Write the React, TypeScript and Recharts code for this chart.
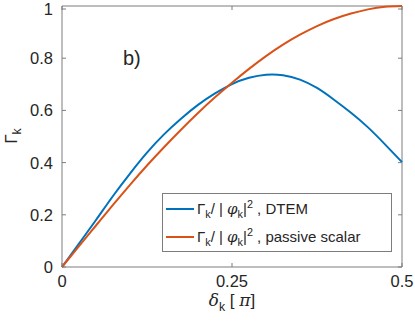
import { LineChart, Line, XAxis, YAxis, ReferenceArea } from 'recharts'

// delta_k in units of pi
const DELTA = [
  0, 0.025, 0.05, 0.075, 0.1, 0.125, 0.15, 0.175, 0.2, 0.225, 0.25,
  0.275, 0.3, 0.325, 0.35, 0.375, 0.4, 0.425, 0.45, 0.475, 0.5,
]
const GAMMA_DTEM = [
  0, 0.09, 0.18, 0.272, 0.358, 0.438, 0.508, 0.568, 0.621, 0.665, 0.701,
  0.725, 0.737, 0.735, 0.718, 0.686, 0.641, 0.591, 0.535, 0.47, 0.402,
]
const GAMMA_PASSIVE = [
  0, 0.08, 0.159, 0.238, 0.315, 0.389, 0.459, 0.526, 0.59, 0.65, 0.706,
  0.759, 0.808, 0.852, 0.89, 0.923, 0.95, 0.971, 0.987, 0.997, 1,
]
const X_TICKS = [0, 0.25, 0.5]
const Y_TICKS = [0, 0.2, 0.4, 0.6, 0.8, 1]

const W = 415
const H = 322
const PLOT = { left: 62, top: 6, right: 402, bottom: 267 }
const AXIS = '#7d7d7d'
const TEXT = '#262626'
const FONT = '"Liberation Sans", Arial, Helvetica, sans-serif'
const SERIF = '"DejaVu Serif", serif'
const BLUE = '#0072BD'
const ORANGE = '#D95319'

const data = DELTA.map((d, i) => ({
  delta: d,
  dtem: GAMMA_DTEM[i],
  passive: GAMMA_PASSIVE[i],
}))

function XTick({ x, payload }: any) {
  return (
    <g>
      <line x1={x} x2={x} y1={PLOT.bottom} y2={PLOT.bottom - 4} stroke={AXIS} />
      <line x1={x} x2={x} y1={PLOT.top} y2={PLOT.top + 4} stroke={AXIS} />
      <text x={x} y={PLOT.bottom + 20} textAnchor="middle" fill={TEXT} fontSize={16.5} fontFamily={FONT}>
        {payload.value}
      </text>
    </g>
  )
}

function YTick({ y, payload }: any) {
  return (
    <g>
      <line x1={PLOT.left} x2={PLOT.left + 4} y1={y} y2={y} stroke={AXIS} />
      <line x1={PLOT.right} x2={PLOT.right - 4} y1={y} y2={y} stroke={AXIS} />
      <text x={53} y={y + 6} textAnchor="end" fill={TEXT} fontSize={16.5} fontFamily={FONT}>
        {payload.value}
      </text>
    </g>
  )
}

const subStyle = { fontSize: '0.72em', verticalAlign: '-0.35em' }
const supStyle = { fontSize: '0.72em', verticalAlign: '0.55em' }

function LegendText({ label }: { label: string }) {
  return (
    <span style={{ whiteSpace: 'nowrap' }}>
      Γ<span style={subStyle}>k</span>/ | <i style={{ fontFamily: SERIF }}>φ</i>
      <span style={subStyle}>k</span>|<span style={supStyle}>2</span> , {label}
    </span>
  )
}

export default function App() {
  return (
    <div style={{ position: 'absolute', left: 0, top: 0, width: W, height: H, background: '#fff', fontFamily: FONT, color: TEXT }}>
      <LineChart
        width={W}
        height={H}
        data={data}
        margin={{ top: PLOT.top, right: W - PLOT.right, bottom: 0, left: 0 }}
      >
        <XAxis
          dataKey="delta"
          type="number"
          domain={[0, 0.5]}
          ticks={X_TICKS}
          tick={XTick}
          tickLine={false}
          axisLine={false}
          height={H - PLOT.bottom}
        />
        <YAxis
          type="number"
          domain={[0, 1]}
          ticks={Y_TICKS}
          tick={YTick}
          tickLine={false}
          axisLine={false}
          width={PLOT.left}
        />
        <ReferenceArea x1={0} x2={0.5} y1={0} y2={1} fill="none" stroke={AXIS} strokeWidth={1} />
        <Line type="natural" dataKey="dtem" stroke={BLUE} strokeWidth={2} dot={false} isAnimationActive={false} />
        <Line type="natural" dataKey="passive" stroke={ORANGE} strokeWidth={2} dot={false} isAnimationActive={false} />
      </LineChart>

      {/* panel tag */}
      <div style={{ position: 'absolute', left: 123, top: 47, fontSize: 20 }}>b)</div>

      {/* y label */}
      <div
        style={{
          position: 'absolute',
          left: 13,
          top: 136,
          fontSize: 17,
          transform: 'translate(-50%, -50%) rotate(-90deg)',
          whiteSpace: 'nowrap',
        }}
      >
        Γ<span style={subStyle}>k</span>
      </div>

      {/* x label */}
      <div
        style={{
          position: 'absolute',
          left: (PLOT.left + PLOT.right) / 2,
          top: 302,
          fontSize: 17,
          transform: 'translate(-50%, -50%)',
          whiteSpace: 'nowrap',
        }}
      >
        <i style={{ fontFamily: SERIF }}>δ</i>
        <span style={subStyle}>k</span> [ <i style={{ fontFamily: SERIF }}>π</i>]
      </div>

      {/* legend */}
      <div
        style={{
          position: 'absolute',
          left: 162,
          top: 193,
          width: 230,
          height: 59,
          boxSizing: 'border-box',
          border: `1px solid ${AXIS}`,
          background: '#fff',
          fontSize: 15,
        }}
      >
        {[
          { color: BLUE, label: 'DTEM', top: 6 },
          { color: ORANGE, label: 'passive scalar', top: 34 },
        ].map((it) => (
          <div key={it.label} style={{ position: 'absolute', left: 3, top: it.top, display: 'flex', alignItems: 'center', height: 18 }}>
            <span style={{ display: 'inline-block', width: 28, height: 2, background: it.color, marginRight: 3 }} />
            <LegendText label={it.label} />
          </div>
        ))}
      </div>
    </div>
  )
}
